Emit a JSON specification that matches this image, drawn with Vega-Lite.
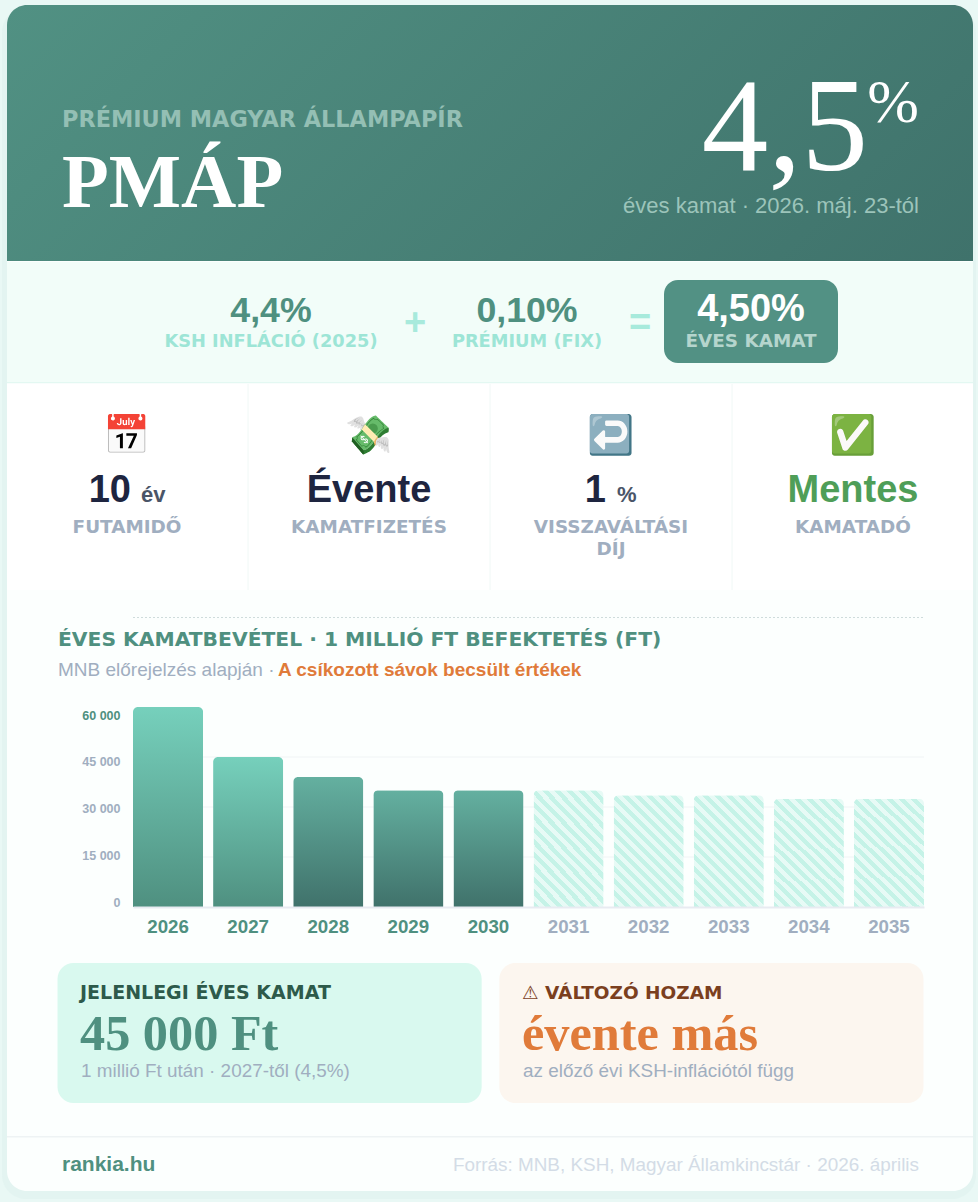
{
"$schema":"https://vega.github.io/schema/vega-lite/v6.json",
"width":978,"height":1202,"padding":0,"autosize":{"type":"none"},
"background":"#e9f8f5",
"config":{"view":{"stroke":null},"text":{"baseline":"alphabetic"}},
"datasets":{"kamat":[
{"ev":2026,"kamat":60000,"csoport":"elso"},
{"ev":2027,"kamat":45000,"csoport":"elso"},
{"ev":2028,"kamat":39000,"csoport":"masodik"},
{"ev":2029,"kamat":35000,"csoport":"masodik"},
{"ev":2030,"kamat":35000,"csoport":"masodik"},
{"ev":2031,"kamat":35000,"csoport":"becsult"},
{"ev":2032,"kamat":33500,"csoport":"becsult"},
{"ev":2033,"kamat":33500,"csoport":"becsult"},
{"ev":2034,"kamat":32500,"csoport":"becsult"},
{"ev":2035,"kamat":32500,"csoport":"becsult"}
]},
"layer":[
{"data":{"values":[{"o":"arnyek","s":"arnyek"}]},"mark":{"type":"rect","color":"#dff2ee","opacity":0.6,"cornerRadius":24},
 "encoding":{"x":{"field":"o","type":"nominal","axis":null,"scale":{"type":"band","range":[2,976],"paddingInner":0,"paddingOuter":0}},"y":{"field":"s","type":"nominal","axis":null,"scale":{"type":"band","range":[8,1199],"paddingInner":0,"paddingOuter":0}}}},
{"data":{"values":[{"o":"kartya","s":"kartya"}]},"mark":{"type":"rect","color":"#fcfffe","cornerRadius":20},
 "encoding":{"x":{"field":"o","type":"nominal","axis":null,"scale":{"type":"band","range":[7,973],"paddingInner":0,"paddingOuter":0}},"y":{"field":"s","type":"nominal","axis":null,"scale":{"type":"band","range":[5,1191],"paddingInner":0,"paddingOuter":0}}}},
{"data":{"values":[{"o":"fej","s":"fej"}]},"mark":{"type":"rect","cornerRadiusTopLeft":20,"cornerRadiusTopRight":20,"color":{"gradient":"linear","x1":0,"y1":0,"x2":1.182,"y2":0.3133,"stops":[{"offset":0,"color":"#519183"},{"offset":1,"color":"#3f726b"}]}},
 "encoding":{"x":{"field":"o","type":"nominal","axis":null,"scale":{"type":"band","range":[7,973],"paddingInner":0,"paddingOuter":0}},"y":{"field":"s","type":"nominal","axis":null,"scale":{"type":"band","range":[5,261],"paddingInner":0,"paddingOuter":0}}}},
{"data":{"values":[{"o":"keplet","s":"keplet"}]},"mark":{"type":"rect","color":"#f2fdf9"},
 "encoding":{"x":{"field":"o","type":"nominal","axis":null,"scale":{"type":"band","range":[7,973],"paddingInner":0,"paddingOuter":0}},"y":{"field":"s","type":"nominal","axis":null,"scale":{"type":"band","range":[262,382],"paddingInner":0,"paddingOuter":0}}}},
{"data":{"values":[{"o":"vonal","s":"vonal"}]},"mark":{"type":"rect","color":"#e3f8f2"},
 "encoding":{"x":{"field":"o","type":"nominal","axis":null,"scale":{"type":"band","range":[7,973],"paddingInner":0,"paddingOuter":0}},"y":{"field":"s","type":"nominal","axis":null,"scale":{"type":"band","range":[382,383.5],"paddingInner":0,"paddingOuter":0}}}},
{"data":{"values":[{"o":"adatok","s":"adatok"}]},"mark":{"type":"rect","color":"#ffffff"},
 "encoding":{"x":{"field":"o","type":"nominal","axis":null,"scale":{"type":"band","range":[7,973],"paddingInner":0,"paddingOuter":0}},"y":{"field":"s","type":"nominal","axis":null,"scale":{"type":"band","range":[383.5,590],"paddingInner":0,"paddingOuter":0}}}},
{"data":{"values":[{"o":"a","tol":"fent","ig":"lent"},{"o":"b","tol":"fent","ig":"lent"},{"o":"c","tol":"fent","ig":"lent"}]},"mark":{"type":"rule","color":"#f0f8f6","strokeWidth":1},
 "encoding":{"x":{"field":"o","type":"nominal","axis":null,"scale":{"type":"point","range":[248,732],"padding":0}},"y":{"field":"tol","type":"nominal","axis":null,"sort":["fent","lent"],"scale":{"type":"point","range":[384,590],"padding":0}},"y2":{"field":"ig"}}},
{"data":{"values":[{"o":"doboz","s":"doboz"}]},"mark":{"type":"rect","color":"#529184","cornerRadius":14},
 "encoding":{"x":{"field":"o","type":"nominal","axis":null,"scale":{"type":"band","range":[664,838],"paddingInner":0,"paddingOuter":0}},"y":{"field":"s","type":"nominal","axis":null,"scale":{"type":"band","range":[280,363],"paddingInner":0,"paddingOuter":0}}}},
{"data":{"values":[{"o":"bal","s":"lent"},{"o":"jobb","s":"lent"}]},"mark":{"type":"rect","cornerRadius":16,"color":"#d9f9ef"},
 "transform":[{"filter":"datum.o=='bal'"}],
 "encoding":{"x":{"field":"o","type":"nominal","axis":null,"sort":["bal","jobb"],"scale":{"type":"band","domain":["bal","jobb"],"range":[57.5,923.5],"paddingInner":0.04,"paddingOuter":0}},"y":{"field":"s","type":"nominal","axis":null,"scale":{"type":"band","range":[963,1103],"paddingInner":0,"paddingOuter":0}}}},
{"data":{"values":[{"o":"bal","s":"lent"},{"o":"jobb","s":"lent"}]},"mark":{"type":"rect","cornerRadius":16,"color":"#fcf6ef"},
 "transform":[{"filter":"datum.o=='jobb'"}],
 "encoding":{"x":{"field":"o","type":"nominal","axis":null,"sort":["bal","jobb"],"scale":{"type":"band","domain":["bal","jobb"],"range":[57.5,923.5],"paddingInner":0.04,"paddingOuter":0}},"y":{"field":"s","type":"nominal","axis":null,"scale":{"type":"band","range":[963,1103],"paddingInner":0,"paddingOuter":0}}}},
{"data":{"values":[{"o":"labl","s":"labl"}]},"mark":{"type":"rect","color":"#eef3f4"},
 "encoding":{"x":{"field":"o","type":"nominal","axis":null,"scale":{"type":"band","range":[7,973],"paddingInner":0,"paddingOuter":0}},"y":{"field":"s","type":"nominal","axis":null,"scale":{"type":"band","range":[1136,1137.5],"paddingInner":0,"paddingOuter":0}}}},
{"data":{"values":[{"tol":"eleje","ig":"vege","s":"felso"}]},"mark":{"type":"rule","color":"#cfdcdc","strokeWidth":1,"strokeDash":[2,2]},
 "encoding":{"x":{"field":"tol","type":"nominal","axis":null,"scale":{"type":"point","domain":["eleje","vege"],"range":[133,924],"padding":0}},"x2":{"field":"ig"},"y":{"field":"s","type":"nominal","axis":null,"scale":{"type":"point","range":[617.5,617.5]}}}},
{"data":{"values":[{"ertek":15000,"tol":"eleje","ig":"vege"},{"ertek":30000,"tol":"eleje","ig":"vege"},{"ertek":45000,"tol":"eleje","ig":"vege"}]},"mark":{"type":"rule","color":"#f0f4f5","strokeWidth":1},
 "encoding":{"x":{"field":"tol","type":"nominal","axis":null,"scale":{"type":"point","domain":["eleje","vege"],"range":[133,924],"padding":0}},"x2":{"field":"ig"},"y":{"field":"ertek","type":"quantitative","axis":null,"scale":{"domain":[0,60000],"range":[907,707],"nice":false}}}},
{"data":{"name":"kamat"},"transform":[{"filter":"datum.csoport=='elso'"}],
 "mark":{"type":"bar","cornerRadiusTopLeft":5,"cornerRadiusTopRight":5,"color":{"gradient":"linear","x1":0,"y1":0,"x2":0,"y2":1,"stops":[{"offset":0,"color":"#76d0bc"},{"offset":1,"color":"#4f9080"}]}},
 "encoding":{"x":{"field":"ev","type":"ordinal","axis":null,"scale":{"type":"band","domain":[2026,2027,2028,2029,2030,2031,2032,2033,2034,2035],"range":[133,924],"paddingInner":0.125,"paddingOuter":0}},"y":{"field":"kamat","type":"quantitative","axis":null,"scale":{"domain":[0,60000],"range":[907,707],"nice":false}}}},
{"data":{"name":"kamat"},"transform":[{"filter":"datum.csoport=='masodik'"}],
 "mark":{"type":"bar","cornerRadiusTopLeft":5,"cornerRadiusTopRight":5,"color":{"gradient":"linear","x1":0,"y1":0,"x2":0,"y2":1,"stops":[{"offset":0,"color":"#64b0a0"},{"offset":1,"color":"#40726b"}]}},
 "encoding":{"x":{"field":"ev","type":"ordinal","axis":null,"scale":{"type":"band","domain":[2026,2027,2028,2029,2030,2031,2032,2033,2034,2035],"range":[133,924],"paddingInner":0.125,"paddingOuter":0}},"y":{"field":"kamat","type":"quantitative","axis":null,"scale":{"domain":[0,60000],"range":[907,707],"nice":false}}}},
{"data":{"name":"kamat"},"transform":[{"filter":"datum.csoport=='becsult'"}],
 "mark":{"type":"bar","cornerRadiusTopLeft":5,"cornerRadiusTopRight":5,"opacity":0.95,"color":{"gradient":"linear","x1":0,"y1":1,"x2":0.7303,"y2":-0.1685,"stops":[
 {"offset":0,"color":"#c2f2e6"},{"offset":0.033,"color":"#c2f2e6"},{"offset":0.033,"color":"#e6faf5"},{"offset":0.066,"color":"#e6faf5"},
 {"offset":0.066,"color":"#c2f2e6"},{"offset":0.099,"color":"#c2f2e6"},{"offset":0.099,"color":"#e6faf5"},{"offset":0.132,"color":"#e6faf5"},
 {"offset":0.132,"color":"#c2f2e6"},{"offset":0.165,"color":"#c2f2e6"},{"offset":0.165,"color":"#e6faf5"},{"offset":0.198,"color":"#e6faf5"},
 {"offset":0.198,"color":"#c2f2e6"},{"offset":0.231,"color":"#c2f2e6"},{"offset":0.231,"color":"#e6faf5"},{"offset":0.264,"color":"#e6faf5"},
 {"offset":0.264,"color":"#c2f2e6"},{"offset":0.297,"color":"#c2f2e6"},{"offset":0.297,"color":"#e6faf5"},{"offset":0.33,"color":"#e6faf5"},
 {"offset":0.33,"color":"#c2f2e6"},{"offset":0.363,"color":"#c2f2e6"},{"offset":0.363,"color":"#e6faf5"},{"offset":0.396,"color":"#e6faf5"},
 {"offset":0.396,"color":"#c2f2e6"},{"offset":0.429,"color":"#c2f2e6"},{"offset":0.429,"color":"#e6faf5"},{"offset":0.462,"color":"#e6faf5"},
 {"offset":0.462,"color":"#c2f2e6"},{"offset":0.495,"color":"#c2f2e6"},{"offset":0.495,"color":"#e6faf5"},{"offset":0.528,"color":"#e6faf5"},
 {"offset":0.528,"color":"#c2f2e6"},{"offset":0.561,"color":"#c2f2e6"},{"offset":0.561,"color":"#e6faf5"},{"offset":0.594,"color":"#e6faf5"},
 {"offset":0.594,"color":"#c2f2e6"},{"offset":0.627,"color":"#c2f2e6"},{"offset":0.627,"color":"#e6faf5"},{"offset":0.66,"color":"#e6faf5"},
 {"offset":0.66,"color":"#c2f2e6"},{"offset":0.693,"color":"#c2f2e6"},{"offset":0.693,"color":"#e6faf5"},{"offset":0.726,"color":"#e6faf5"},
 {"offset":0.726,"color":"#c2f2e6"},{"offset":0.759,"color":"#c2f2e6"},{"offset":0.759,"color":"#e6faf5"},{"offset":0.792,"color":"#e6faf5"},
 {"offset":0.792,"color":"#c2f2e6"},{"offset":0.825,"color":"#c2f2e6"},{"offset":0.825,"color":"#e6faf5"},{"offset":0.858,"color":"#e6faf5"},
 {"offset":0.858,"color":"#c2f2e6"},{"offset":0.891,"color":"#c2f2e6"},{"offset":0.891,"color":"#e6faf5"},{"offset":0.924,"color":"#e6faf5"},
 {"offset":0.924,"color":"#c2f2e6"},{"offset":0.957,"color":"#c2f2e6"},{"offset":0.957,"color":"#e6faf5"},{"offset":0.99,"color":"#e6faf5"},
 {"offset":0.99,"color":"#c2f2e6"},{"offset":1,"color":"#c2f2e6"}]}},
 "encoding":{"x":{"field":"ev","type":"ordinal","axis":null,"scale":{"type":"band","domain":[2026,2027,2028,2029,2030,2031,2032,2033,2034,2035],"range":[133,924],"paddingInner":0.125,"paddingOuter":0}},"y":{"field":"kamat","type":"quantitative","axis":null,"scale":{"domain":[0,60000],"range":[907,707],"nice":false}}}},
{"data":{"name":"kamat"},"mark":{"type":"bar","opacity":0},
 "encoding":{"x":{"field":"ev","type":"ordinal","title":null,"scale":{"type":"band","domain":[2026,2027,2028,2029,2030,2031,2032,2033,2034,2035],"range":[133,924],"paddingInner":0.125,"paddingOuter":0},
   "axis":{"orient":"bottom","offset":-295,"zindex":1,"grid":false,"ticks":false,"labelAngle":0,"labelPadding":25,"labelBaseline":"alphabetic","labelFont":"Liberation Sans","labelFontWeight":"bold","labelFontSize":18.7,"labelOverlap":false,"domainColor":"#e8ebf1","domainWidth":2,"labelColor":{"condition":{"test":"datum.value<=2030","value":"#4f9080"},"value":"#a0aec0"}}},
  "y":{"field":"kamat","type":"quantitative","title":null,"scale":{"domain":[0,60000],"range":[902,715],"nice":false},
   "axis":{"orient":"left","offset":-120,"zindex":1,"grid":false,"ticks":false,"domain":false,"labelPadding":0,"values":[0,15000,30000,45000,60000],"labelExpr":"replace(format(datum.value,','),',',' ')","labelFont":"Liberation Sans","labelFontWeight":"bold","labelFontSize":12.5,"labelOverlap":false,"labelFlush":false,"labelColor":{"condition":{"test":"datum.value==60000","value":"#4f9080"},"value":"#a0aec0"}}}}},

{"data":{"values":[{"t":"PRÉMIUM MAGYAR ÁLLAMPAPÍR","o":"bal","s":"felso"}]},"mark":{"type":"text","align":"left","font":"DejaVu Sans","fontSize":22.4,"fontWeight":"bold","color":"#94bfb4"},
 "encoding":{"text":{"field":"t"},"x":{"field":"o","type":"nominal","axis":null,"scale":{"type":"point","range":[62,62]}},"y":{"field":"s","type":"nominal","axis":null,"scale":{"type":"point","range":[127,127]}}}},
{"data":{"values":[{"t":"PMÁP","o":"bal","s":"cim"}]},"mark":{"type":"text","align":"left","font":"Liberation Serif","fontSize":76.6,"fontWeight":"bold","color":"#ffffff"},
 "encoding":{"text":{"field":"t"},"x":{"field":"o","type":"nominal","axis":null,"scale":{"type":"point","range":[62,62]}},"y":{"field":"s","type":"nominal","axis":null,"scale":{"type":"point","range":[207,207]}}}},
{"data":{"values":[{"t":"4,5","o":"jobb","s":"kamat"}]},"mark":{"type":"text","align":"right","font":"Liberation Serif","fontSize":133,"color":"#ffffff"},
 "encoding":{"text":{"field":"t"},"x":{"field":"o","type":"nominal","axis":null,"scale":{"type":"point","range":[868,868]}},"y":{"field":"s","type":"nominal","axis":null,"scale":{"type":"point","range":[170,170]}}}},
{"data":{"values":[{"t":"%","o":"jobb","s":"kamat"}]},"mark":{"type":"text","align":"right","font":"Liberation Serif","fontSize":62,"color":"#ffffff"},
 "encoding":{"text":{"field":"t"},"x":{"field":"o","type":"nominal","axis":null,"scale":{"type":"point","range":[919,919]}},"y":{"field":"s","type":"nominal","axis":null,"scale":{"type":"point","range":[122,122]}}}},
{"data":{"values":[{"t":"éves kamat · 2026. máj. 23-tól","o":"jobb","s":"al"}]},"mark":{"type":"text","align":"right","font":"Liberation Sans","fontSize":22,"color":"#9cc4ba"},
 "encoding":{"text":{"field":"t"},"x":{"field":"o","type":"nominal","axis":null,"scale":{"type":"point","range":[919,919]}},"y":{"field":"s","type":"nominal","axis":null,"scale":{"type":"point","range":[213,213]}}}},

{"data":{"values":[{"t":"4,4%","o":"a","s":"ertek"},{"t":"0,10%","o":"b","s":"ertek"}]},"mark":{"type":"text","align":"center","font":"Liberation Sans","fontSize":35.7,"fontWeight":"bold","color":"#4f9080"},
 "encoding":{"text":{"field":"t"},"x":{"field":"o","type":"nominal","axis":null,"scale":{"type":"point","range":[271,527],"padding":0}},"y":{"field":"s","type":"nominal","axis":null,"scale":{"type":"point","range":[322,322]}}}},
{"data":{"values":[{"t":"KSH INFLÁCIÓ (2025)","o":"a","s":"cimke"},{"t":"PRÉMIUM (FIX)","o":"b","s":"cimke"}]},"mark":{"type":"text","align":"center","font":"DejaVu Sans","fontSize":17.8,"fontWeight":"bold","color":"#9de5d6"},
 "encoding":{"text":{"field":"t"},"x":{"field":"o","type":"nominal","axis":null,"scale":{"type":"point","range":[271,527],"padding":0}},"y":{"field":"s","type":"nominal","axis":null,"scale":{"type":"point","range":[347,347]}}}},
{"data":{"values":[{"t":"+","o":"a","s":"jel"},{"t":"=","o":"b","s":"jel"}]},"mark":{"type":"text","align":"center","font":"Liberation Sans","fontSize":38,"fontWeight":"bold","color":"#a8eadc"},
 "encoding":{"text":{"field":"t"},"x":{"field":"o","type":"nominal","axis":null,"scale":{"type":"point","range":[415,640],"padding":0}},"y":{"field":"s","type":"nominal","axis":null,"scale":{"type":"point","range":[335,335]}}}},
{"data":{"values":[{"t":"4,50%","o":"a","s":"ertek"}]},"mark":{"type":"text","align":"center","font":"Liberation Sans","fontSize":38,"fontWeight":"bold","color":"#ffffff"},
 "encoding":{"text":{"field":"t"},"x":{"field":"o","type":"nominal","axis":null,"scale":{"type":"point","range":[751,751]}},"y":{"field":"s","type":"nominal","axis":null,"scale":{"type":"point","range":[321,321]}}}},
{"data":{"values":[{"t":"ÉVES KAMAT","o":"a","s":"cimke"}]},"mark":{"type":"text","align":"center","font":"DejaVu Sans","fontSize":18.4,"fontWeight":"bold","color":"#b5d5cd"},
 "encoding":{"text":{"field":"t"},"x":{"field":"o","type":"nominal","axis":null,"scale":{"type":"point","range":[751,751]}},"y":{"field":"s","type":"nominal","axis":null,"scale":{"type":"point","range":[347,347]}}}},

{"data":{"values":[{"t":"📅","o":"a","s":"ikon"},{"t":"💸","o":"b","s":"ikon"},{"t":"↩️","o":"c","s":"ikon"},{"t":"✅","o":"d","s":"ikon"}]},"mark":{"type":"text","align":"center","font":"Noto Color Emoji","fontSize":38},
 "encoding":{"text":{"field":"t"},"x":{"field":"o","type":"nominal","axis":null,"scale":{"type":"point","range":[127,853],"padding":0}},"y":{"field":"s","type":"nominal","axis":null,"scale":{"type":"point","range":[448,448]}}}},
{"data":{"values":[{"t":"10","o":"a","s":"ertek"},{"t":"1","o":"b","s":"ertek"}]},"mark":{"type":"text","align":"right","font":"Liberation Sans","fontSize":38,"fontWeight":"bold","color":"#1e2540"},
 "encoding":{"text":{"field":"t"},"x":{"field":"o","type":"nominal","axis":null,"scale":{"type":"point","range":[131,606],"padding":0}},"y":{"field":"s","type":"nominal","axis":null,"scale":{"type":"point","range":[502,502]}}}},
{"data":{"values":[{"t":"év","o":"a","s":"ertek"},{"t":"%","o":"b","s":"ertek"}]},"mark":{"type":"text","align":"left","font":"Liberation Sans","fontSize":22,"fontWeight":"bold","color":"#4a5568"},
 "encoding":{"text":{"field":"t"},"x":{"field":"o","type":"nominal","axis":null,"scale":{"type":"point","range":[141,617],"padding":0}},"y":{"field":"s","type":"nominal","axis":null,"scale":{"type":"point","range":[502,502]}}}},
{"data":{"values":[{"t":"Évente","o":"a","s":"ertek"}]},"mark":{"type":"text","align":"center","font":"Liberation Sans","fontSize":38,"fontWeight":"bold","color":"#1e2540"},
 "encoding":{"text":{"field":"t"},"x":{"field":"o","type":"nominal","axis":null,"scale":{"type":"point","range":[369,369]}},"y":{"field":"s","type":"nominal","axis":null,"scale":{"type":"point","range":[502,502]}}}},
{"data":{"values":[{"t":"Mentes","o":"a","s":"ertek"}]},"mark":{"type":"text","align":"center","font":"Liberation Sans","fontSize":38,"fontWeight":"bold","color":"#4f9e58"},
 "encoding":{"text":{"field":"t"},"x":{"field":"o","type":"nominal","axis":null,"scale":{"type":"point","range":[853,853]}},"y":{"field":"s","type":"nominal","axis":null,"scale":{"type":"point","range":[502,502]}}}},
{"data":{"values":[{"t":"FUTAMIDŐ","o":"a","s":"cimke"},{"t":"KAMATFIZETÉS","o":"b","s":"cimke"},{"t":"VISSZAVÁLTÁSI\nDÍJ","o":"c","s":"cimke"},{"t":"KAMATADÓ","o":"d","s":"cimke"}]},"mark":{"type":"text","align":"center","font":"DejaVu Sans","fontSize":18.4,"fontWeight":"bold","color":"#a0aec0","lineBreak":"\n","lineHeight":22},
 "encoding":{"text":{"field":"t"},"x":{"field":"o","type":"nominal","axis":null,"scale":{"type":"point","range":[127,853],"padding":0}},"y":{"field":"s","type":"nominal","axis":null,"scale":{"type":"point","range":[533,533]}}}},

{"data":{"values":[{"t":"ÉVES KAMATBEVÉTEL · 1 MILLIÓ FT BEFEKTETÉS (FT)","o":"a","s":"cim"}]},"mark":{"type":"text","align":"left","font":"DejaVu Sans","fontSize":20.3,"fontWeight":"bold","color":"#4f9080"},
 "encoding":{"text":{"field":"t"},"x":{"field":"o","type":"nominal","axis":null,"scale":{"type":"point","range":[58,58]}},"y":{"field":"s","type":"nominal","axis":null,"scale":{"type":"point","range":[646,646]}}}},
{"data":{"values":[{"t":"MNB előrejelzés alapján · ","o":"a","s":"al"}]},"mark":{"type":"text","align":"left","font":"Liberation Sans","fontSize":19,"color":"#a0aec0"},
 "encoding":{"text":{"field":"t"},"x":{"field":"o","type":"nominal","axis":null,"scale":{"type":"point","range":[58,58]}},"y":{"field":"s","type":"nominal","axis":null,"scale":{"type":"point","range":[676,676]}}}},
{"data":{"values":[{"t":"A csíkozott sávok becsült értékek","o":"a","s":"al"}]},"mark":{"type":"text","align":"left","font":"Liberation Sans","fontSize":19,"fontWeight":"bold","color":"#e07b3a"},
 "encoding":{"text":{"field":"t"},"x":{"field":"o","type":"nominal","axis":null,"scale":{"type":"point","range":[278,278]}},"y":{"field":"s","type":"nominal","axis":null,"scale":{"type":"point","range":[676,676]}}}},

{"data":{"values":[{"t":"JELENLEGI ÉVES KAMAT","o":"a","s":"a"}]},"mark":{"type":"text","align":"left","font":"DejaVu Sans","fontSize":19,"fontWeight":"bold","color":"#2d5a4a"},
 "encoding":{"text":{"field":"t"},"x":{"field":"o","type":"nominal","axis":null,"scale":{"type":"point","range":[80,80]}},"y":{"field":"s","type":"nominal","axis":null,"scale":{"type":"point","range":[999,999]}}}},
{"data":{"values":[{"t":"⚠ VÁLTOZÓ HOZAM","o":"a","s":"a"}]},"mark":{"type":"text","align":"left","font":"DejaVu Sans","fontSize":18.5,"fontWeight":"bold","color":"#7b3f1e"},
 "encoding":{"text":{"field":"t"},"x":{"field":"o","type":"nominal","axis":null,"scale":{"type":"point","range":[522,522]}},"y":{"field":"s","type":"nominal","axis":null,"scale":{"type":"point","range":[999,999]}}}},
{"data":{"values":[{"t":"45 000 Ft","o":"a","s":"a"}]},"mark":{"type":"text","align":"left","font":"Liberation Serif","fontSize":50.3,"fontWeight":"bold","color":"#4f9080"},
 "encoding":{"text":{"field":"t"},"x":{"field":"o","type":"nominal","axis":null,"scale":{"type":"point","range":[80,80]}},"y":{"field":"s","type":"nominal","axis":null,"scale":{"type":"point","range":[1050,1050]}}}},
{"data":{"values":[{"t":"évente más","o":"a","s":"a"}]},"mark":{"type":"text","align":"left","font":"Liberation Serif","fontSize":50.3,"fontWeight":"bold","color":"#e07b3a"},
 "encoding":{"text":{"field":"t"},"x":{"field":"o","type":"nominal","axis":null,"scale":{"type":"point","range":[522,522]}},"y":{"field":"s","type":"nominal","axis":null,"scale":{"type":"point","range":[1050,1050]}}}},
{"data":{"values":[{"t":"1 millió Ft után · 2027-től (4,5%)","o":"a","s":"a"},{"t":"az előző évi KSH-inflációtól függ","o":"b","s":"a"}]},"mark":{"type":"text","align":"left","font":"Liberation Sans","fontSize":18.9,"color":"#a0aec0"},
 "encoding":{"text":{"field":"t"},"x":{"field":"o","type":"nominal","axis":null,"scale":{"type":"point","range":[81,523],"padding":0}},"y":{"field":"s","type":"nominal","axis":null,"scale":{"type":"point","range":[1077,1077]}}}},

{"data":{"values":[{"t":"rankia.hu","o":"a","s":"a"}]},"mark":{"type":"text","align":"left","font":"Liberation Sans","fontSize":21,"fontWeight":"bold","color":"#4f9080"},
 "encoding":{"text":{"field":"t"},"x":{"field":"o","type":"nominal","axis":null,"scale":{"type":"point","range":[62,62]}},"y":{"field":"s","type":"nominal","axis":null,"scale":{"type":"point","range":[1171,1171]}}}},
{"data":{"values":[{"t":"Forrás: MNB, KSH, Magyar Államkincstár · 2026. április","o":"a","s":"a"}]},"mark":{"type":"text","align":"right","font":"Liberation Sans","fontSize":18.9,"color":"#d3dce6"},
 "encoding":{"text":{"field":"t"},"x":{"field":"o","type":"nominal","axis":null,"scale":{"type":"point","range":[919,919]}},"y":{"field":"s","type":"nominal","axis":null,"scale":{"type":"point","range":[1171,1171]}}}}
],
"resolve":{"scale":{"x":"independent","y":"independent"},"axis":{"x":"independent","y":"independent"}}
}
